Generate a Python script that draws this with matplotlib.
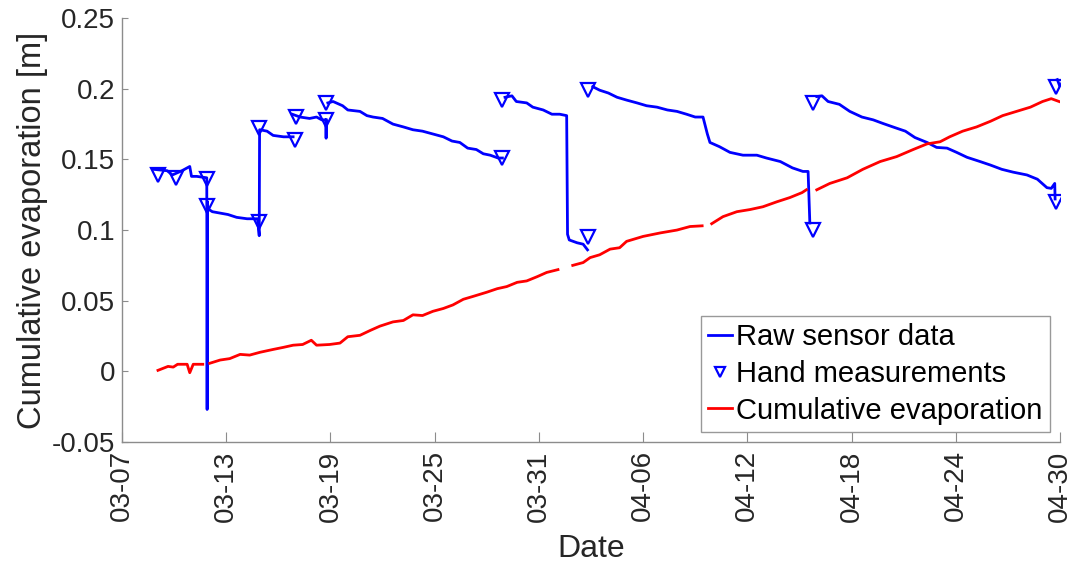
import matplotlib
matplotlib.use('Agg')
import matplotlib.pyplot as plt
import matplotlib.dates as mdates
from matplotlib.ticker import FuncFormatter
import numpy as np

plt.rcParams['font.family'] = ['Liberation Sans', 'DejaVu Sans']

START = np.datetime64('2019-03-07T00:00')

# raw sensor data: (days since 03-07, metres), one list pair per continuous run
raw_d1 = [1.8, 2.6, 2.9, 3.45, 3.9, 4.0, 4.3, 4.88, 4.9, 4.92, 4.95, 5.2, 5.65, 6.1,
          6.6, 7.2, 7.8, 7.9, 7.92, 7.94, 8.35, 8.7, 9.3, 9.85]
raw_v1 = [0.143, 0.142, 0.139, 0.142, 0.145, 0.138, 0.138, 0.137, -0.027, 0.12, 0.115,
          0.113, 0.112, 0.111, 0.109, 0.108, 0.108, 0.096, 0.171, 0.171, 0.170, 0.167,
          0.166, 0.166]
raw_d2 = [9.8, 10.25, 10.8, 11.2, 11.5, 11.74, 11.75, 11.76]
raw_v2 = [0.182, 0.180, 0.179, 0.180, 0.178, 0.178, 0.165, 0.178]
raw_d3 = [11.85, 12.15, 12.7, 13.0, 13.7, 14.1, 14.45, 15.0, 15.6, 16.2, 16.75, 17.3,
          17.9, 18.5, 19.0, 19.45, 19.9, 20.4, 20.8, 21.2, 21.65, 21.9]
raw_v3 = [0.190, 0.191, 0.188, 0.185, 0.184, 0.181, 0.180, 0.179, 0.175, 0.173, 0.171,
          0.170, 0.168, 0.166, 0.163, 0.162, 0.158, 0.157, 0.154, 0.153, 0.151, 0.151]
raw_d4 = [22.05, 22.45, 22.7, 23.3, 23.65, 24.25, 24.75, 25.2, 25.6, 25.65, 25.75,
          26.2, 26.55, 26.8]
raw_v4 = [0.194, 0.195, 0.191, 0.190, 0.187, 0.185, 0.182, 0.182, 0.181, 0.097, 0.093,
          0.091, 0.090, 0.086]
raw_d5 = [27.1, 27.5, 28.0, 28.5, 29.05, 29.65, 30.2, 30.8, 31.4, 31.95, 32.5, 33.0,
          33.45, 33.7, 33.85, 34.4, 35.0, 35.75, 36.55, 37.1, 37.9, 38.6, 39.2, 39.5,
          39.6]
raw_v5 = [0.2015, 0.199, 0.197, 0.194, 0.192, 0.190, 0.188, 0.187, 0.185, 0.184, 0.182,
          0.180, 0.180, 0.168, 0.162, 0.159, 0.155, 0.153, 0.153, 0.151, 0.1485, 0.144,
          0.1415, 0.1415, 0.105]
raw_d6 = [40.0, 40.3, 40.65, 41.3, 41.9, 42.6, 43.25, 43.8, 44.5, 45.1, 45.65, 46.35,
          46.9, 47.5, 48.05, 48.65, 49.4, 50.0, 50.65, 51.3, 52.1, 52.7, 53.25, 53.5,
          53.7, 53.72]
raw_v6 = [0.1945, 0.195, 0.191, 0.189, 0.184, 0.180, 0.178, 0.1755, 0.1725, 0.170,
          0.1655, 0.162, 0.1585, 0.158, 0.155, 0.1515, 0.1485, 0.146, 0.143, 0.141, 0.139,
          0.136, 0.130, 0.1295, 0.133, 0.122]
raw_d7 = [53.85, 54.0]
raw_v7 = [0.2065, 0.2015]

# hand measurements
hand_d = [2.07, 3.1, 4.9, 4.9, 7.9, 7.9, 9.96, 10.0, 11.74, 11.74, 21.9, 21.9,
          26.8, 26.8, 39.8, 39.8, 53.8, 53.8]
hand_v = [0.139, 0.137, 0.136, 0.117, 0.106, 0.172, 0.164, 0.180, 0.178, 0.190, 0.151,
          0.192, 0.199, 0.095, 0.190, 0.100, 0.201, 0.120]

# cumulative evaporation, runs split at the small gaps
evap_d1 = [2.07, 2.65, 2.95, 3.2, 3.75, 3.9, 4.1, 4.65]
evap_v1 = [0.0007, 0.0035, 0.003, 0.005, 0.005, -0.001, 0.005, 0.005]
evap_d2 = [5.05, 5.65, 6.2, 6.8, 7.35, 7.95, 8.7, 9.3, 9.85, 10.4, 10.9, 11.2, 11.95,
           12.55, 13.0, 13.7, 14.3, 14.85, 15.6, 16.2, 16.75, 17.3, 17.9, 18.5, 19.05,
           19.65, 20.2, 21.0, 21.6, 22.15, 22.75, 23.3, 23.9, 24.45, 25.1]
evap_v2 = [0.0057, 0.008, 0.009, 0.012, 0.0115, 0.0135, 0.0155, 0.017, 0.0185, 0.019,
           0.022, 0.0185, 0.019, 0.020, 0.0245, 0.0255, 0.029, 0.032, 0.035, 0.036,
           0.040, 0.0395, 0.0425, 0.0445, 0.047, 0.051, 0.053, 0.056, 0.0585, 0.060,
           0.063, 0.064, 0.067, 0.070, 0.072]
evap_d3 = [25.95, 26.55, 26.95, 27.5, 28.1, 28.65, 29.05, 30.0, 31.0, 31.95, 32.7, 33.4]
evap_v3 = [0.075, 0.077, 0.0805, 0.0825, 0.0865, 0.0875, 0.092, 0.0955, 0.098, 0.100,
           0.1025, 0.103]
evap_d4 = [33.95, 34.6, 35.4, 36.15, 36.9, 37.7, 38.45, 39.15, 39.4]
evap_v4 = [0.1045, 0.1095, 0.113, 0.1145, 0.1165, 0.120, 0.123, 0.1265, 0.1285]
evap_d5 = [40.0, 40.75, 41.75, 42.65, 43.65, 44.6, 45.55, 46.35, 47.1, 47.65, 48.4,
           49.2, 50.0, 50.7, 51.5, 52.3, 53.0, 53.5, 53.95]
evap_v5 = [0.1285, 0.133, 0.137, 0.143, 0.1485, 0.152, 0.157, 0.161, 0.1625, 0.166,
           0.170, 0.173, 0.177, 0.181, 0.184, 0.187, 0.191, 0.193, 0.191]


def to_dates(days):
    mins = np.round(np.asarray(days, dtype=float) * 1440).astype('timedelta64[m]')
    return START + mins


fig = plt.figure(figsize=(10.75, 5.67), dpi=100)
ax = fig.add_axes([0.1135, 0.2205, 0.8725, 0.7475])

AX_COL = '#8c8c8c'
TXT_COL = '#262626'

# blue runs drawn one by one so the gaps stay open
raw_runs = [(raw_d1, raw_v1), (raw_d2, raw_v2), (raw_d3, raw_v3), (raw_d4, raw_v4),
            (raw_d5, raw_v5), (raw_d6, raw_v6), (raw_d7, raw_v7)]
for i, (dd, vv) in enumerate(raw_runs):
    ax.plot(to_dates(dd), vv, color='#0000FF', lw=2,
            label='Raw sensor data' if i == 0 else None)

ax.plot(to_dates(hand_d), hand_v, ls='none', marker='v', ms=9.5, mew=1.6,
        mfc='none', mec='#0000FF', label='Hand measurements')

evap_runs = [(evap_d1, evap_v1), (evap_d2, evap_v2), (evap_d3, evap_v3),
             (evap_d4, evap_v4), (evap_d5, evap_v5)]
for i, (dd, vv) in enumerate(evap_runs):
    ax.plot(to_dates(dd), vv, color='#FF0000', lw=2,
            label='Cumulative evaporation' if i == 0 else None)

ax.set_xlim(START, START + np.timedelta64(54, 'D'))
ax.set_ylim(-0.05, 0.25)
ax.set_xticks(to_dates(np.arange(0, 55, 6)))
ax.xaxis.set_major_formatter(mdates.DateFormatter('%m-%d'))
ax.set_yticks(np.arange(-0.05, 0.2501, 0.05))
ax.yaxis.set_major_formatter(FuncFormatter(lambda v, p: '%g' % round(v, 3)))

for s in ['top', 'right']:
    ax.spines[s].set_visible(False)
for s in ['left', 'bottom']:
    ax.spines[s].set_color(AX_COL)
    ax.spines[s].set_linewidth(1.0)

ax.tick_params(axis='x', direction='in', length=7, color=AX_COL, labelsize=20,
               labelcolor=TXT_COL, labelrotation=90, pad=6)
ax.tick_params(axis='y', direction='in', length=4, color=AX_COL, labelsize=20,
               labelcolor=TXT_COL, pad=5)

ax.set_xlabel('Date', fontsize=23, color=TXT_COL, labelpad=9)
ax.set_ylabel('Cumulative evaporation [m]', fontsize=23.5, color=TXT_COL, labelpad=3)

leg = ax.legend(loc='lower right', bbox_to_anchor=(0.989, 0.024), fontsize=21,
                frameon=True, fancybox=False, framealpha=1, edgecolor='#999999',
                handlelength=0.8, handletextpad=0.15, borderpad=0.25,
                labelspacing=0.3, borderaxespad=0.0, markerscale=0.75)
leg.get_frame().set_linewidth(1.0)
for t in leg.get_texts():
    t.set_color('#000000')

plt.savefig('out.png', dpi=100, facecolor='white')
